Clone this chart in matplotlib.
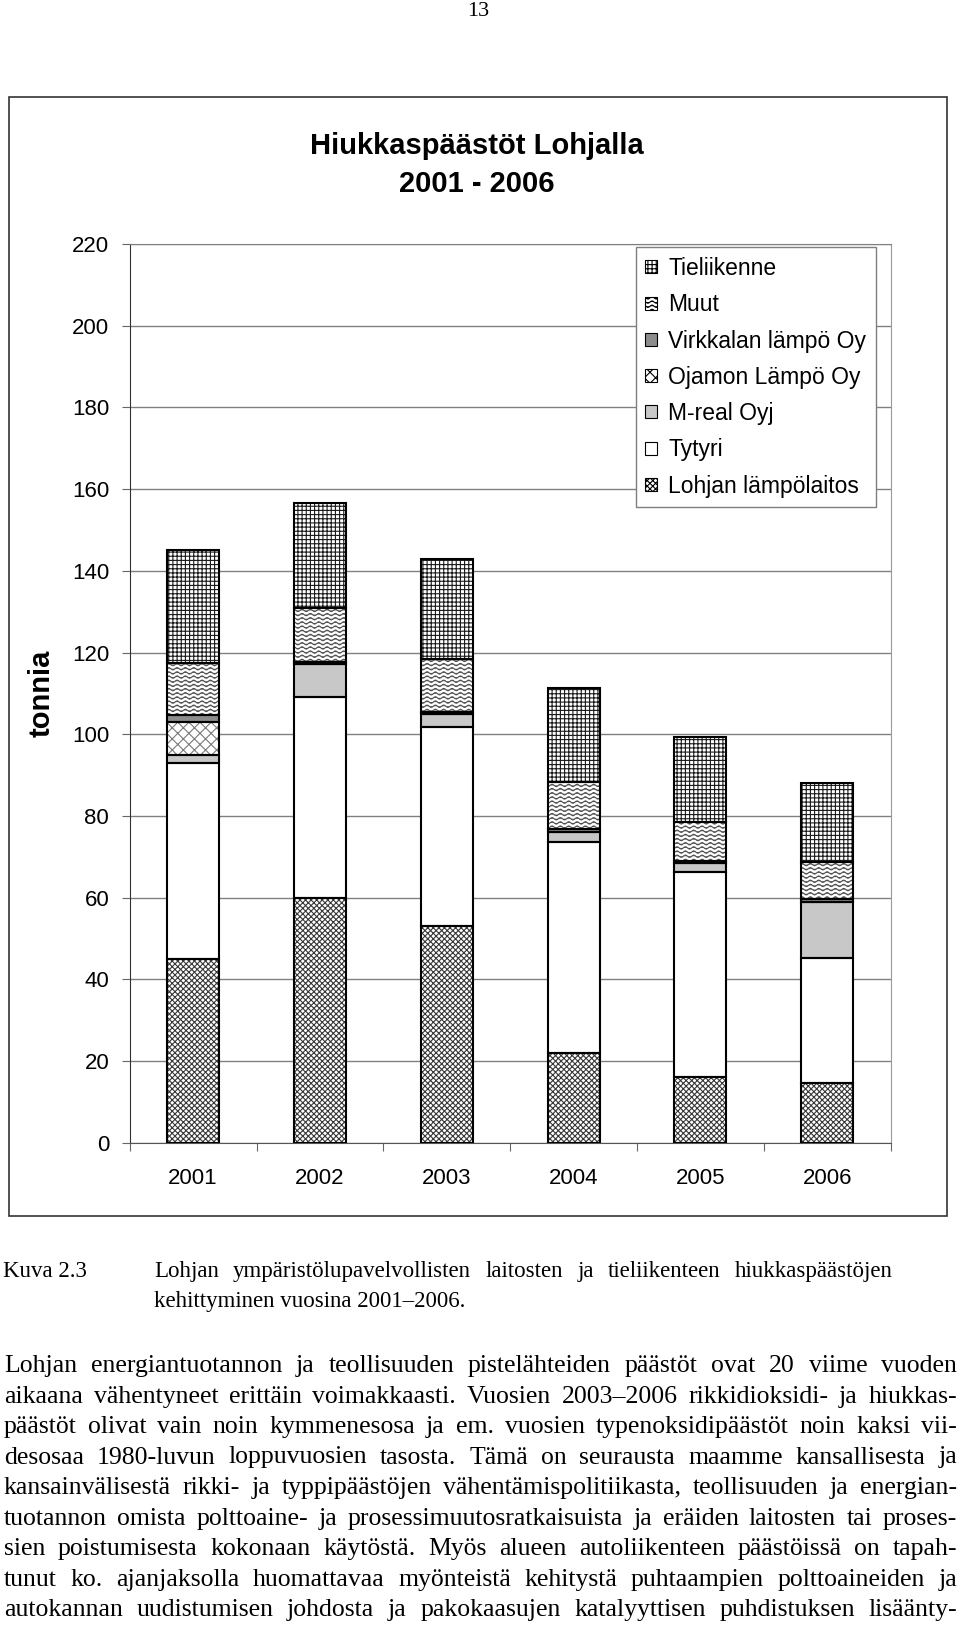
import warnings
import numpy as np
import matplotlib
matplotlib.use('Agg')
import matplotlib.pyplot as plt
import matplotlib.patches as mpatches
from matplotlib import hatch as mhatch
from matplotlib.path import Path

# '~' is our own wavy hatch, matplotlib warns about unknown hatch chars
warnings.filterwarnings('ignore', message='hatch must consist')

years = ['2001', '2002', '2003', '2004', '2005', '2006']
lohjan = [45.0, 60.0, 53.1, 21.9, 16.2, 14.5]
tytyri = [47.9, 49.2, 48.7, 51.8, 50.1, 30.6]
mreal = [2.0, 7.9, 3.1, 2.4, 2.1, 13.9]
ojamon = [8.2, 0.0, 0.0, 0.0, 0.0, 0.0]
virkkala = [1.7, 0.6, 0.6, 0.6, 0.6, 0.6]
muut = [12.6, 13.3, 12.9, 11.7, 9.6, 9.2]
tieliikenne = [27.8, 25.7, 24.4, 22.8, 20.8, 19.2]

labels = ['Lohjan lämpölaitos', 'Tytyri', 'M-real Oyj', 'Ojamon Lämpö Oy',
          'Virkkalan lämpö Oy', 'Muut', 'Tieliikenne']
series = [lohjan, tytyri, mreal, ojamon, virkkala, muut, tieliikenne]

title = ['Hiukkaspäästöt Lohjalla', '2001 - 2006']
ylabel = 'tonnia'
caption = ['Lohjan ympäristölupavelvollisten laitosten ja tieliikenteen hiukkaspäästöjen',
           'kehittyminen vuosina 2001–2006.']
body = [
    'Lohjan energiantuotannon ja teollisuuden pistelähteiden päästöt ovat 20 viime vuoden',
    'aikaana vähentyneet erittäin voimakkaasti. Vuosien 2003–2006 rikkidioksidi- ja hiukkas-',
    'päästöt olivat vain noin kymmenesosa ja em. vuosien typenoksidipäästöt noin kaksi vii-',
    'desosaa 1980-luvun loppuvuosien tasosta. Tämä on seurausta maamme kansallisesta ja',
    'kansainvälisestä rikki- ja typpipäästöjen vähentämispolitiikasta, teollisuuden ja energian-',
    'tuotannon omista polttoaine- ja prosessimuutosratkaisuista ja eräiden laitosten tai proses-',
    'sien poistumisesta kokonaan käytöstä. Myös alueen autoliikenteen päästöissä on tapah-',
    'tunut ko. ajanjaksolla huomattavaa myönteistä kehitystä puhtaampien polttoaineiden ja',
    'autokannan uudistumisen johdosta ja pakokaasujen katalyyttisen puhdistuksen lisäänty-',
]


class WaveHatch(mhatch.HatchPatternBase):
    # rows of small waves, like the Excel "wave" fill
    def __init__(self, hatch, density):
        self.num_rows = int(hatch.count('~') * density)
        self.pts = 97
        self.num_vertices = self.num_rows * self.pts

    def set_vertices_and_codes(self, vertices, codes):
        xs = np.linspace(0.0, 1.0, self.pts)
        amp = 0.28 / max(self.num_rows, 1)
        for i in range(self.num_rows):
            y0 = (i + 0.5) / self.num_rows
            s = slice(i * self.pts, (i + 1) * self.pts)
            vertices[s, 0] = xs
            vertices[s, 1] = y0 + amp * np.sin(2 * np.pi * 12 * xs)
            codes[s] = Path.LINETO
            codes[i * self.pts] = Path.MOVETO


mhatch._hatch_types.append(WaveHatch)

plt.rcParams['font.family'] = 'Liberation Sans'
plt.rcParams['hatch.linewidth'] = 0.8

W, H = 960, 1635


def fx(px):
    return px / W


def fy(py):
    return 1 - py / H


fig = plt.figure(figsize=(W / 100, H / 100), dpi=100)
ax = fig.add_axes([fx(129.7), fy(1142.7), 761 / W, (1142.7 - 244) / H])

faces = ['white', 'white', '#c8c8c8', 'white', '#8c8c8c', 'white', 'white']
hatches = ['xxxxxx', None, None, 'xxx', None, '~~~~', '++++']
hcols = ['#383838', 'black', 'black', '#7a7a7a', 'black', '#505050', '#1a1a1a']

x = np.arange(len(years))
bw = 0.41
bottom = np.zeros(len(years))
handles = []
for vals, fc, h, hc in zip(series, faces, hatches, hcols):
    vals = np.array(vals)
    # fill + hatch first (hatch takes the edge colour), then the black outline
    ax.bar(x, vals, bw, bottom=bottom, color=fc, edgecolor=hc, hatch=h,
           linewidth=0, zorder=2)
    ax.bar(x, vals, bw, bottom=bottom, fill=False, edgecolor='black',
           linewidth=1.5, zorder=3)
    bottom += vals
    handles.append(mpatches.Patch(facecolor=fc, edgecolor='black', hatch=h, linewidth=0.8))

ax.set_xlim(-0.5, 5.5)
ax.set_ylim(0, 220)
ax.set_yticks(np.arange(0, 221, 20))
ax.yaxis.grid(True, color='#808080', linewidth=1.0)
ax.set_axisbelow(True)
ax.set_xticks(np.arange(-0.5, 6, 1))
ax.set_xticklabels([])
ax.set_xticks(x, years, minor=True)
ax.tick_params(axis='x', which='minor', length=0, pad=18.5, labelsize=16)
ax.tick_params(axis='x', which='major', length=5.8, direction='out', color='#666666')
ax.tick_params(axis='y', length=5.8, direction='out', color='#666666', pad=9, labelsize=16)
ax.spines['left'].set_color('#333333')
ax.spines['bottom'].set_color('#555555')
ax.spines['right'].set_color('#999999')
ax.spines['top'].set_color('#808080')

leg = fig.legend(handles[::-1], labels[::-1], loc='upper left',
                 bbox_to_anchor=(fx(635.7), fy(247.3)), fontsize=16.5,
                 frameon=True, fancybox=False, edgecolor='#7f7f7f', framealpha=1,
                 borderpad=0.42, labelspacing=0.58, handlelength=0.5, handleheight=0.5,
                 handletextpad=0.5, borderaxespad=0)
leg.get_frame().set_linewidth(1.0)

# chart frame
fig.add_artist(mpatches.Rectangle((fx(9), fy(1216)), (947 - 9) / W, (1216 - 97) / H,
                                  transform=fig.transFigure, fill=False,
                                  edgecolor='#333333', linewidth=1.2))

fig.text(fx(477), fy(146), title[0], ha='center', va='center', fontsize=21, weight='bold')
fig.text(fx(477), fy(184.5), title[1], ha='center', va='center', fontsize=21, weight='bold')
fig.text(fx(41.7), fy(693), ylabel, ha='center', va='center', rotation=90,
         fontsize=21, weight='bold')

# page text
serif = 'Liberation Serif'
fig.text(fx(478), fy(12), '13', ha='center', va='center', fontsize=16, family=serif)

renderer = fig.canvas.get_renderer()


def justified(s, x0, x1, base, size):
    words = s.split(' ')
    objs = [fig.text(fx(x0), fy(base), w, fontsize=size, family=serif, va='baseline')
            for w in words]
    widths = [t.get_window_extent(renderer).width for t in objs]
    gap = (x1 - x0 - sum(widths)) / (len(words) - 1)
    pos = x0
    for t, w in zip(objs, widths):
        t.set_x(fx(pos))
        pos += w + gap


fig.text(fx(3), fy(1277), 'Kuva 2.3', fontsize=16.5, family=serif, va='baseline')
justified(caption[0], 154, 893, 1277, 16.5)
fig.text(fx(154), fy(1307), caption[1], fontsize=16.5, family=serif, va='baseline')

for i, line in enumerate(body):
    justified(line, 4, 957, 1372 + i * 30.5, 18.5)

fig.savefig('out.png', dpi=100)
